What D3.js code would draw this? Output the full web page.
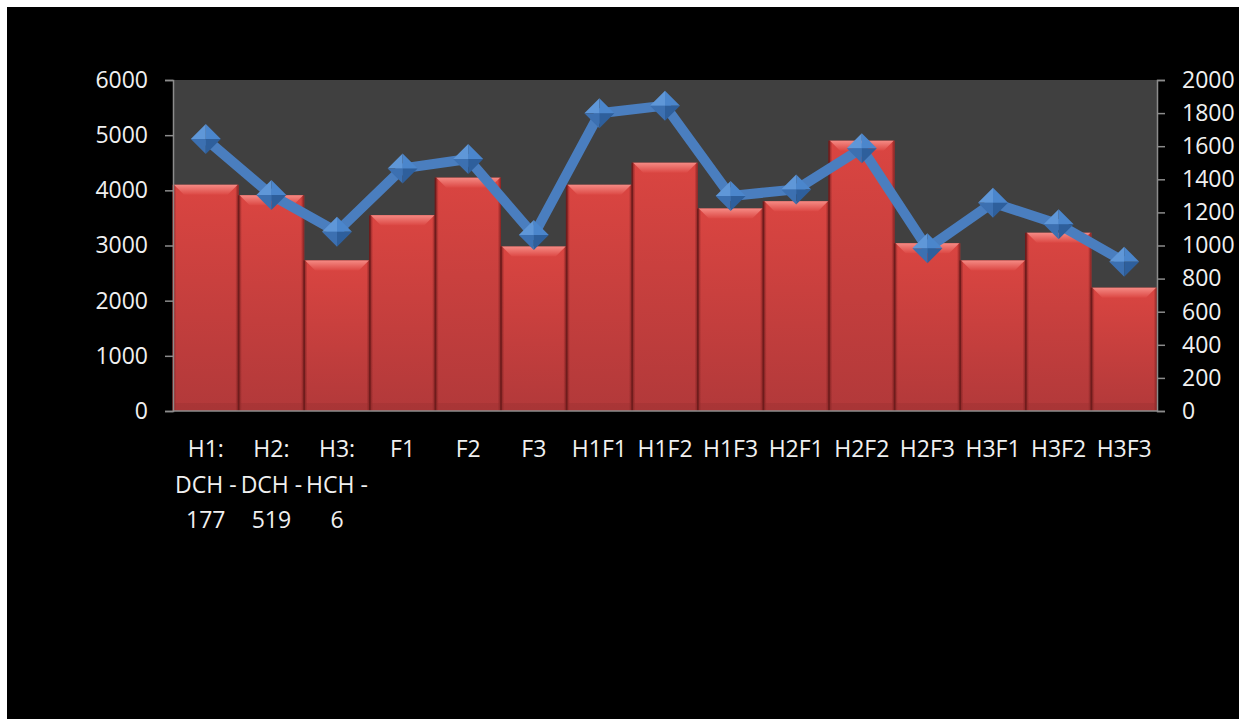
<!DOCTYPE html>
<html>
<head>
<meta charset="utf-8">
<script src="https://d3js.org/d3.v7.min.js"></script>
<style>
  body { margin: 0; background: #fff; }
  text { font-family: "Open Sans", sans-serif; }
</style>
</head>
<body>
<svg id="chart" width="1244" height="719"></svg>
<script>
// categories and series
const categories = ["H1: DCH - 177", "H2: DCH - 519", "H3: HCH - 6", "F1", "F2", "F3",
  "H1F1", "H1F2", "H1F3", "H2F1", "H2F2", "H2F3", "H3F1", "H3F2", "H3F3"];
const barValues = [4100, 3910, 2730, 3550, 4230, 2980, 4100, 4500, 3670, 3800, 4900, 3040, 2730, 3230, 2235];
const lineValues = [1643, 1305, 1083, 1466, 1523, 1063, 1799, 1845, 1299, 1339, 1587, 983, 1259, 1128, 902];
const leftTicks = [0, 1000, 2000, 3000, 4000, 5000, 6000];
const rightTicks = [0, 200, 400, 600, 800, 1000, 1200, 1400, 1600, 1800, 2000];

const svg = d3.select("#chart");

const plotLeft = 173, plotRight = 1157, plotTop = 80, plotBottom = 411;

// black chart area inside a thin white frame
svg.append("rect")
  .attr("x", 7).attr("y", 7)
  .attr("width", 1232).attr("height", 712)
  .attr("fill", "#000");

// plot background
svg.append("rect")
  .attr("x", plotLeft).attr("y", plotTop)
  .attr("width", plotRight - plotLeft).attr("height", plotBottom - plotTop)
  .attr("fill", "#404040");

let x = d3.scaleBand()
  .domain(categories)
  .range([plotLeft, plotRight])
  .padding(0);
let yLeft = d3.scaleLinear().domain([0, 6000]).range([plotBottom, plotTop]);
let yRight = d3.scaleLinear().domain([0, 2000]).range([plotBottom, plotTop]);

// gradients
const defs = svg.append("defs");
const barGrad = defs.append("linearGradient")
  .attr("id", "barGrad").attr("x1", 0).attr("y1", 0).attr("x2", 0).attr("y2", 1);
barGrad.append("stop").attr("offset", "0%").attr("stop-color", "#da4541");
barGrad.append("stop").attr("offset", "100%").attr("stop-color", "#b2393a");

const bevelGrad = defs.append("linearGradient")
  .attr("id", "bevelGrad").attr("x1", 0).attr("y1", 0).attr("x2", 0).attr("y2", 1);
bevelGrad.append("stop").attr("offset", "0%").attr("stop-color", "#f58a84");
bevelGrad.append("stop").attr("offset", "100%").attr("stop-color", "#dc4844");

const sideGrad = defs.append("linearGradient")
  .attr("id", "sideGrad").attr("x1", 0).attr("y1", 0).attr("x2", 1).attr("y2", 0);
sideGrad.append("stop").attr("offset", "0%").attr("stop-color", "#7a1f1f").attr("stop-opacity", 0.9);
sideGrad.append("stop").attr("offset", "5%").attr("stop-color", "#7a1f1f").attr("stop-opacity", 0);
sideGrad.append("stop").attr("offset", "95%").attr("stop-color", "#7a1f1f").attr("stop-opacity", 0);
sideGrad.append("stop").attr("offset", "100%").attr("stop-color", "#7a1f1f").attr("stop-opacity", 0.9);

// bars
const bw = x.bandwidth();
const bars = svg.append("g");
barValues.forEach((v, i) => {
  const x0 = x(categories[i]);
  const y0 = yLeft(v);
  const h = plotBottom - y0;
  bars.append("rect")
    .attr("x", x0).attr("y", y0)
    .attr("width", bw).attr("height", h)
    .attr("fill", "url(#barGrad)");
  bars.append("rect")
    .attr("x", x0).attr("y", y0)
    .attr("width", bw).attr("height", h)
    .attr("fill", "url(#sideGrad)");
  // top bevel
  const b = 10;
  bars.append("path")
    .attr("d", `M${x0 + 1},${y0} L${x0 + bw - 1},${y0} L${x0 + bw - 1 - b},${y0 + b} L${x0 + 1 + b},${y0 + b} Z`)
    .attr("fill", "url(#bevelGrad)");
  // bottom shade
  bars.append("rect")
    .attr("x", x0 + 2).attr("y", plotBottom - 8)
    .attr("width", bw - 4).attr("height", 8)
    .attr("fill", "#8a2a2a").attr("opacity", 0.25);
  bars.append("line")
    .attr("x1", x0).attr("x2", x0)
    .attr("y1", y0).attr("y2", plotBottom)
    .attr("stroke", "#6e1c1c").attr("stroke-width", 1.5);
});

// axes
const axisColor = "#8c8c8c";
const gLeft = svg.append("g")
  .attr("transform", `translate(${plotLeft},0)`)
  .call(d3.axisLeft(yLeft).tickValues(leftTicks).tickSize(8).tickPadding(17).tickFormat(d3.format("d")));
const gRight = svg.append("g")
  .attr("transform", `translate(${plotRight},0)`)
  .call(d3.axisRight(yRight).tickValues(rightTicks).tickSize(8).tickPadding(17).tickFormat(d3.format("d")));
[gLeft, gRight].forEach(g => {
  g.select(".domain").attr("stroke", axisColor).attr("stroke-width", 1.5);
  g.selectAll(".tick line").attr("stroke", axisColor).attr("stroke-width", 1.5);
  g.selectAll(".tick text")
    .attr("fill", "#f0f0f0")
    .style("font-family", "'Open Sans', sans-serif")
    .style("font-size", "23px");
});

svg.append("line")
  .attr("x1", plotLeft).attr("x2", plotRight)
  .attr("y1", plotBottom).attr("y2", plotBottom)
  .attr("stroke", axisColor).attr("stroke-width", 1.5);

// category labels, wrapped to the band width
const labels = svg.append("g");
categories.forEach((c, i) => {
  const cx = x(c) + bw / 2;
  const t = labels.append("text")
    .attr("x", cx).attr("y", 457)
    .attr("text-anchor", "middle")
    .attr("fill", "#f0f0f0")
    .style("font-size", "23px");
  const words = c.split(" ");
  let lines = [];
  let cur = [];
  let probe = t.append("tspan");
  words.forEach(w => {
    const test = cur.concat([w]).join(" ");
    probe.text(test);
    if (probe.node().getComputedTextLength() > bw + 4 && cur.length) {
      lines.push(cur.join(" "));
      cur = [w];
    } else {
      cur.push(w);
    }
  });
  lines.push(cur.join(" "));
  probe.remove();
  lines.forEach((l, k) => {
    t.append("tspan")
      .attr("x", cx)
      .attr("y", 457 + k * 35.5)
      .text(l);
  });
});

// line series on right axis
const line = d3.line()
  .x((d, i) => x(categories[i]) + bw / 2)
  .y(d => yRight(d));
svg.append("path")
  .datum(lineValues)
  .attr("d", line)
  .attr("fill", "none")
  .attr("stroke", "#4a7ebf")
  .attr("stroke-width", 10)
  .attr("stroke-linejoin", "round");

// diamond markers with shaded facets
const m = 15;
const markers = svg.append("g");
lineValues.forEach((v, i) => {
  const cx = x(categories[i]) + bw / 2;
  const cy = yRight(v);
  markers.append("path")
    .attr("d", `M${cx - m},${cy} L${cx},${cy - m} L${cx},${cy} Z`)
    .attr("fill", "#5f97d8");
  markers.append("path")
    .attr("d", `M${cx},${cy - m} L${cx + m},${cy} L${cx},${cy} Z`)
    .attr("fill", "#4b86cc");
  markers.append("path")
    .attr("d", `M${cx - m},${cy} L${cx},${cy + m} L${cx},${cy} Z`)
    .attr("fill", "#3c70b1");
  markers.append("path")
    .attr("d", `M${cx},${cy + m} L${cx + m},${cy} L${cx},${cy} Z`)
    .attr("fill", "#2e5f9c");
});
</script>
</body>
</html>
